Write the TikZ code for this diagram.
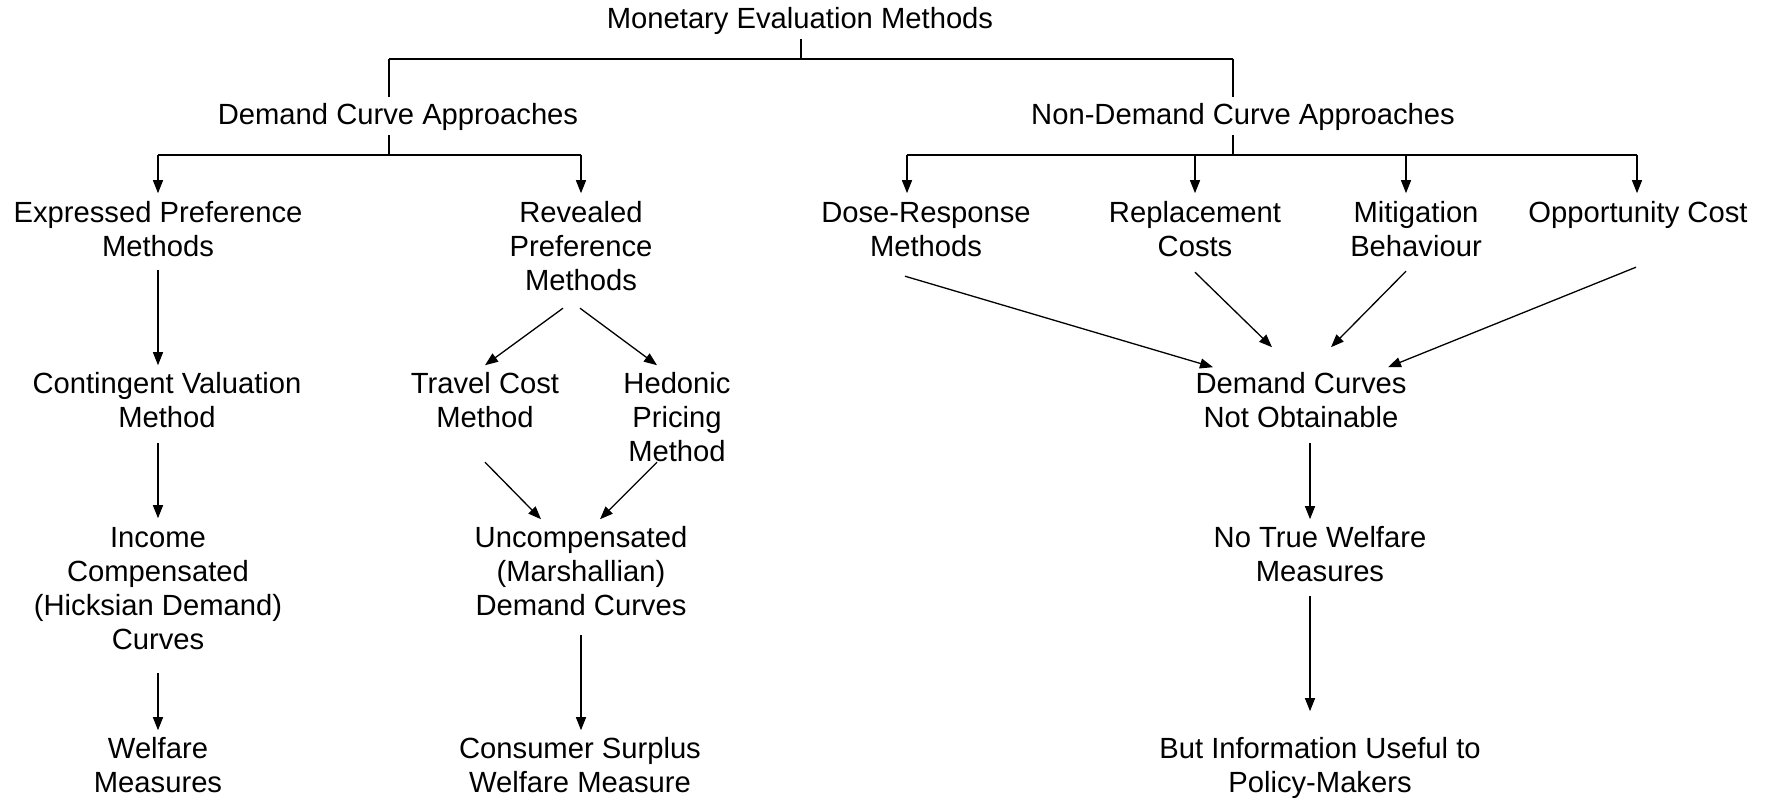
\documentclass[tikz,border=0pt]{standalone}
\usepackage{fontspec}
\setmainfont{Liberation Sans}
\usetikzlibrary{arrows.meta}
\begin{document}
\begin{tikzpicture}[x=1pt,y=-1pt,
  lbl/.style={inner sep=0pt, outer sep=0pt, align=center, anchor=north,
    font=\fontsize{29.2}{34}\selectfont},
  ln/.style={line width=1.3pt},
  arr/.style={ln,-{Triangle[length=13pt,width=10pt]}}]
\useasboundingbox[fill=white] (0,0) rectangle (1773,800);
% nodes
\node[lbl] (met) at (800,5.2) {\strut Monetary Evaluation Methods\strut};
\node[lbl] (dca) at (398,101.2) {\strut Demand Curve Approaches\strut};
\node[lbl] (ndca) at (1243,101.2) {\strut Non-Demand Curve Approaches\strut};
\node[lbl] (epm) at (158,198.2) {\strut Expressed Preference\\Methods\strut};
\node[lbl] (rpm) at (581,198.2) {\strut Revealed\\Preference\\Methods\strut};
\node[lbl] (drm) at (926,198.2) {\strut Dose-Response\\Methods\strut};
\node[lbl] (rc) at (1195,198.2) {\strut Replacement\\Costs\strut};
\node[lbl] (mb) at (1416,198.2) {\strut Mitigation\\Behaviour\strut};
\node[lbl] (oc) at (1638,198.2) {\strut Opportunity Cost\strut};
\node[lbl] (cvm) at (167,369.2) {\strut Contingent Valuation\\Method\strut};
\node[lbl] (tcm) at (485,369.2) {\strut Travel Cost\\Method\strut};
\node[lbl] (hpm) at (677,369.2) {\strut Hedonic\\Pricing\\Method\strut};
\node[lbl] (dcno) at (1301,369.2) {\strut Demand Curves\\Not Obtainable\strut};
\node[lbl] (icc) at (158,523.2) {\strut Income\\Compensated\\(Hicksian Demand)\\Curves\strut};
\node[lbl] (umd) at (581,523.2) {\strut Uncompensated\\(Marshallian)\\Demand Curves\strut};
\node[lbl] (ntw) at (1320,523.2) {\strut No True Welfare\\Measures\strut};
\node[lbl] (wm) at (158,734.2) {\strut Welfare\\Measures\strut};
\node[lbl] (csw) at (580,734.2) {\strut Consumer Surplus\\Welfare Measure\strut};
\node[lbl] (biu) at (1320,734.2) {\strut But Information Useful to\\Policy-Makers\strut};
% top tree
\coordinate (j0) at (801,59);
\coordinate (jl) at (389,59);
\coordinate (jr) at (1233,59);
\draw[ln] (met.south -| j0) -- (j0);
\draw[ln] (jl) -- (jr);
\draw[ln, shorten >=4pt] (jl) -- (jl |- dca.north);
\draw[ln, shorten >=4pt] (jr) -- (jr |- ndca.north);
% demand curve tree
\coordinate (k0) at (389,155);
\coordinate (kl) at (158,155);
\coordinate (kr) at (581,155);
\draw[ln] (dca.south -| k0) -- (k0);
\draw[ln] (kl) -- (kr);
\draw[arr, shorten >=5pt] (kl) -- (kl |- epm.north);
\draw[arr, shorten >=5pt] (kr) -- (kr |- rpm.north);
% non-demand tree
\coordinate (m0) at (1233,155);
\coordinate (m1) at (907,155);
\coordinate (m2) at (1195,155);
\coordinate (m3) at (1406,155);
\coordinate (m4) at (1637,155);
\draw[ln] (ndca.south -| m0) -- (m0);
\draw[ln] (m1) -- (m4);
\draw[arr, shorten >=5pt] (m1) -- (m1 |- drm.north);
\draw[arr, shorten >=5pt] (m2) -- (m2 |- rc.north);
\draw[arr, shorten >=5pt] (m3) -- (m3 |- mb.north);
\draw[arr, shorten >=5pt] (m4) -- (m4 |- oc.north);
% expressed preference column
\draw[arr, shorten <=4pt, shorten >=4pt] (epm.south) -- (epm.south |- cvm.north);
\draw[arr, shorten <=6pt, shorten >=5pt] (icc.north |- cvm.south) -- (icc.north);
\draw[arr, shorten <=14pt, shorten >=4pt] (icc.south) -- (wm.north);
% revealed preference column
\draw[arr] ([xshift=-18pt,yshift=-8pt]rpm.south) -- ([yshift=4pt]tcm.north);
\draw[arr] ([xshift=-1pt,yshift=-8pt]rpm.south) -- ([xshift=-20pt,yshift=4pt]hpm.north);
\draw[arr] ([yshift=-25pt]tcm.south) -- ([xshift=-40pt,yshift=4pt]umd.north);
\draw[arr] ([xshift=-20pt,yshift=9pt]hpm.south) -- ([xshift=19pt,yshift=4pt]umd.north);
\draw[arr, shorten <=10pt, shorten >=4pt] (umd.south) -- (umd.south |- csw.north);
% non-demand column
\draw[arr] ([xshift=-21pt,yshift=-10pt]drm.south) -- ([xshift=-88pt,yshift=2pt]dcno.north);
\draw[arr] ([yshift=-6pt]rc.south) -- ([xshift=-29pt,yshift=22pt]dcno.north);
\draw[arr] ([xshift=-10pt,yshift=-5pt]mb.south) -- ([xshift=30pt,yshift=22pt]dcno.north);
\draw[arr] ([xshift=-2pt,yshift=-35pt]oc.south) -- ([xshift=87pt,yshift=2pt]dcno.north);
\draw[arr, shorten <=6pt, shorten >=4pt] ([xshift=-10pt]ntw.north |- dcno.south) -- ([xshift=-10pt]ntw.north);
\draw[arr, shorten <=5pt, shorten >=23pt] ([xshift=-10pt]ntw.south) -- ([xshift=-10pt]biu.north);
\end{tikzpicture}
\end{document}
